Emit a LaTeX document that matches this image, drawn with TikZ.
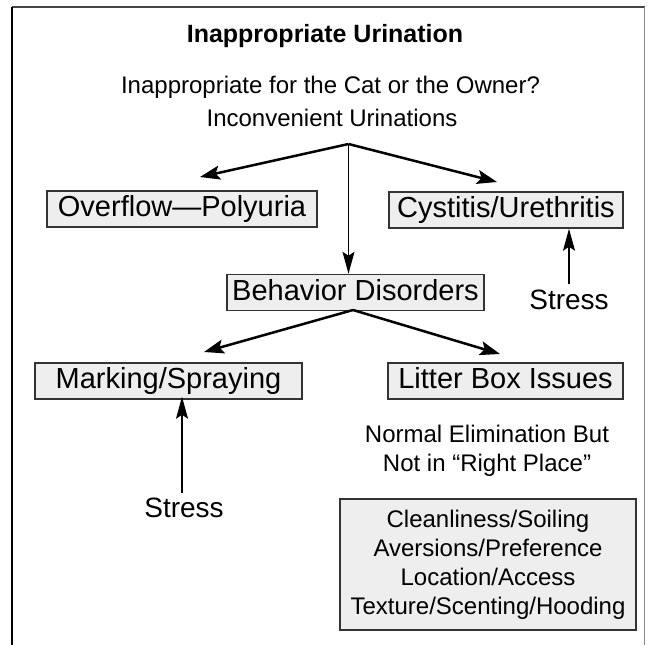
\documentclass[tikz,border=0pt]{standalone}
\usepackage{fontspec}
\setmainfont{Liberation Sans}
\usetikzlibrary{arrows.meta}
\definecolor{boxfill}{HTML}{EEEEEE}
\definecolor{boxline}{HTML}{333333}
\definecolor{frametop}{HTML}{444444}
\definecolor{frameright}{HTML}{888888}
\begin{document}
\begin{tikzpicture}[x=1pt,y=-1pt,
  boxnode/.style={draw=boxline, fill=boxfill, line width=1.5pt, inner sep=0pt,
    minimum height=36pt, font=\fontsize{29}{34}\selectfont, text height=21pt, text depth=6pt},
  bigbox/.style={draw=boxline, fill=boxfill, line width=1.5pt, inner sep=0pt,
    align=center, font=\fontsize{24}{29}\selectfont},
  plain/.style={anchor=base, inner sep=0pt, font=\fontsize{24}{29}\selectfont},
  stresstext/.style={anchor=base, inner sep=0pt, font=\fontsize{28}{33}\selectfont},
  thickarrow/.style={line width=2.5pt, -{Stealth[length=20pt,width=14pt,inset=4pt]}},
  thinarrow/.style={line width=1.4pt, -{Stealth[length=22pt,width=12pt,inset=4pt]}}
]
\useasboundingbox (0,0) rectangle (650,645);
% frame
\coordinate (tl) at (11.5,7);
\coordinate (tr) at (644.5,7);
\coordinate (bl) at (11.5,645);
\coordinate (br) at (644.5,645);
\draw[line width=1.5pt, frametop] (tl) -- (tr);
\draw[line width=1pt, frameright] (tr) -- (br);
\draw[line width=2pt, black] (tl) -- (bl);
% texts
\node[anchor=base, inner sep=0pt, font=\bfseries\fontsize{25}{30}\selectfont] (title) at (325,42) {Inappropriate Urination};
\node[plain] (question) at (330.5,93) {Inappropriate for the Cat or the Owner?};
\node[plain] (incon) at (332,126) {Inconvenient Urinations};
\coordinate (top) at (348.5,144);
% boxes
\node[boxnode, minimum width=270pt] (over) at (182,209) {Overflow—Polyuria};
\node[boxnode, minimum width=234pt] (cyst) at (506,210) {Cystitis/Urethritis};
\node[boxnode, minimum width=257pt] (behav) at (355.5,292.5) {Behavior Disorders};
\node[boxnode, minimum width=267pt] (mark) at (168.5,381) {Marking/Spraying};
\node[boxnode, minimum width=235pt] (litter) at (505.5,381) {Litter Box Issues};
\node[stresstext] (stressR) at (569,309) {Stress};
\node[stresstext] (stressL) at (184,517) {Stress};
\node[plain] (normal1) at (487,442) {Normal Elimination But};
\node[plain] (normal2) at (487,471) {Not in “Right Place”};
\node[bigbox, minimum width=296pt, minimum height=131pt] (list) at (488,564.5)
  {Cleanliness/Soiling\\Aversions/Preference\\Location/Access\\Texture/Scenting/Hooding};
% arrows
\coordinate (tipOver) at (200,177);
\coordinate (tipCyst) at (497,182);
\coordinate (behavTop) at (353,310);
\coordinate (tipMark) at (204,352);
\coordinate (tipLitter) at (500,354);
\draw[thickarrow] (top) -- (tipOver);
\draw[thickarrow] (top) -- (tipCyst);
\draw[thinarrow] (top) -- (top |- behav.north);
\draw[thickarrow] (behavTop) -- (tipMark);
\draw[thickarrow] (behavTop) -- (tipLitter);
\draw[thinarrow, shorten <=5pt] (stressR.north) -- (stressR.north |- cyst.south);
\draw[thinarrow, shorten <=4pt, shorten >=-3pt] ([xshift=-2pt]stressL.north) -- ([xshift=-2pt]stressL.north |- mark.south);
\end{tikzpicture}
\end{document}
